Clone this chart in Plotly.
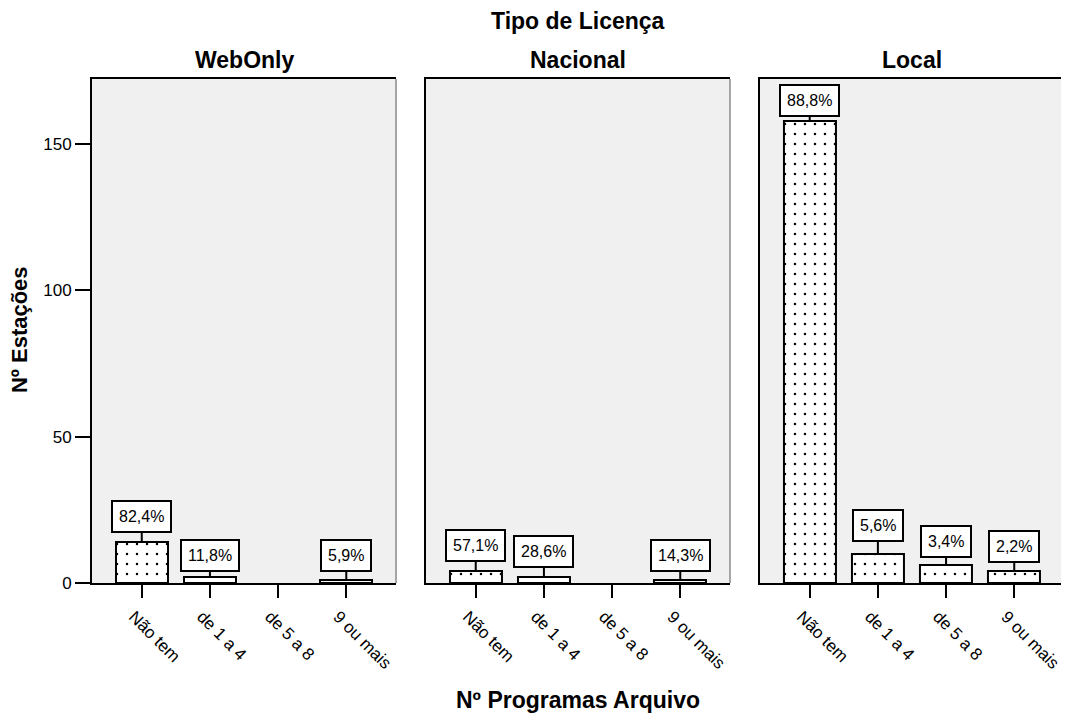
import plotly.graph_objects as go

categories = ["Não tem", "de 1 a 4", "de 5 a 8", "9 ou mais"]
panels = ["WebOnly", "Nacional", "Local"]
webonly = [14, 2, 0, 1]
nacional = [4, 2, 0, 1]
local = [158, 10, 6, 4]
y_ticks = [0, 50, 100, 150]

series = [webonly, nacional, local]
# pixel gap between bar top and label box (style)
label_gaps = [[10, 6, 0, 9], [10, 10, 0, 9], [4, 12, 8, 9]]

FONT = "Liberation Sans, Arial, sans-serif"
domains = [[0.0, 0.3128], [0.3436, 0.6564], [0.6872, 1.0]]

fig = go.Figure()
annotations = []
shapes = []
for i, (name, vals) in enumerate(zip(panels, series)):
    xa = "x" if i == 0 else f"x{i+1}"
    ya = "y" if i == 0 else f"y{i+1}"
    total = sum(vals)
    yv = [v if v > 0 else None for v in vals]
    fig.add_trace(go.Bar(
        x=categories, y=yv, xaxis=xa, yaxis=ya, width=0.76,
        marker=dict(color="white", line=dict(color="black", width=2),
                    pattern=dict(shape=".", fgcolor="black", bgcolor="white",
                                 size=10, solidity=0.05, fillmode="replace")),
        showlegend=False, hoverinfo="skip"))
    for j, (c, v) in enumerate(zip(categories, vals)):
        if v <= 0:
            continue
        pct = f"{100 * v / total:.1f}%".replace(".", ",")
        annotations.append(dict(
            x=c, y=v, xref=xa, yref=ya, text=pct, showarrow=True,
            arrowhead=0, arrowwidth=2, arrowcolor="black", ax=0,
            ay=-(label_gaps[i][j] + 16), standoff=0,
            font=dict(family=FONT, size=16, color="black"),
            bgcolor="white", bordercolor="black", borderwidth=2, borderpad=6))
    # panel title
    annotations.append(dict(
        text=f"<b>{name}</b>", xref="paper", yref="paper",
        x=(domains[i][0] + domains[i][1]) / 2, y=1.038, showarrow=False,
        font=dict(family=FONT, size=23, color="black"),
        xanchor="center", yanchor="middle"))
    # thin right border
    shapes.append(dict(type="line", xref=f"{xa} domain", yref=f"{ya} domain",
                       x0=1, x1=1, y0=0, y1=1,
                       line=dict(color="#555555", width=1)))
    fig.update_layout(**{
        ("xaxis" if i == 0 else f"xaxis{i+1}"): dict(
            domain=domains[i], anchor=ya, range=[-0.73, 3.73],
            type="category", categoryorder="array", categoryarray=categories,
            showline=True, linecolor="black", linewidth=2, mirror=True,
            ticks="outside", ticklen=13, tickwidth=2, tickcolor="black",
            tickangle=45, showgrid=False, zeroline=False,
            ticklabelshift=-8, ticklabelstandoff=2,
            tickfont=dict(family=FONT, size=17, color="black")),
        ("yaxis" if i == 0 else f"yaxis{i+1}"): dict(
            anchor=xa, range=[0, 172.3], showgrid=False, zeroline=False,
            showline=True, linecolor="black", linewidth=2,
            ticks="outside" if i == 0 else "", ticklen=15, tickwidth=2,
            tickcolor="black", tickvals=y_ticks,
            showticklabels=(i == 0),
            tickfont=dict(family=FONT, size=17, color="black")),
    })

annotations += [
    dict(text="<b>Tipo de Licença</b>", xref="paper", yref="paper", x=0.5, y=1.115,
         showarrow=False, font=dict(family=FONT, size=23, color="black"),
         xanchor="center", yanchor="middle"),
    dict(text="<b>Nº Programas Arquivo</b>", xref="paper", yref="paper", x=0.5, y=-0.232,
         showarrow=False, font=dict(family=FONT, size=23, color="black"),
         xanchor="center", yanchor="middle"),
    dict(text="<b>Nº Estações</b>", xref="paper", yref="paper", x=-0.074, y=0.502,
         showarrow=False, textangle=-90, font=dict(family=FONT, size=22, color="black"),
         xanchor="center", yanchor="middle"),
]

fig.update_layout(
    width=1061, height=719,
    margin=dict(l=84, r=5, t=71, b=144, autoexpand=False),
    paper_bgcolor="white", plot_bgcolor="#f0f0f0",
    annotations=annotations, shapes=shapes, bargap=0,
    font=dict(family=FONT, color="black"),
)

fig.write_html("out.html")
